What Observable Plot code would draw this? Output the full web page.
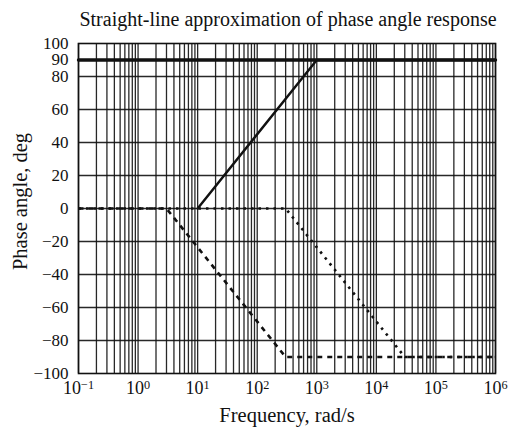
<!DOCTYPE html>
<html>
<head>
<meta charset="utf-8">
<script src="https://cdn.jsdelivr.net/npm/d3@7"></script>
<script src="https://cdn.jsdelivr.net/npm/@observablehq/plot@0.6"></script>
<style>
  html, body { margin: 0; padding: 0; background: #fff; }
  #wrap { position: relative; width: 518px; height: 430px; overflow: hidden; background: #fff; }
  #title { position: absolute; left: 38px; width: 500px; top: 7px; text-align: center; white-space: nowrap;
           font-family: "Liberation Serif", "DejaVu Serif", serif; font-size: 20px; color: #111; line-height: 24px; }
  #chart { position: absolute; left: 0; top: 32px; }
</style>
</head>
<body>
<div id="wrap">
  <div id="title">Straight-line approximation of phase angle response</div>
  <div id="chart"></div>
</div>
<script>
// ---- data ----
const xDecadeTicks = [0.1, 1, 10, 100, 1000, 10000, 100000, 1000000];
const yTicks = [-100, -80, -60, -40, -20, 0, 20, 40, 60, 80, 90, 100];
const yGrid = [-80, -60, -40, -20, 0, 20, 40, 60, 80];

// constant +90 term (solid, heavy)
const constFreq = [0.1, 1000000];
const constPhase = [90, 90];
// zero term (solid)
const zeroFreq = [10, 1000, 1000000];
const zeroPhase = [0, 90, 90];
// first pole (dashed)
const pole1Freq = [0.1, 3, 300, 1000000];
const pole1Phase = [0, 0, -90, -90];
// second pole (dotted)
const pole2Freq = [0.1, 300, 30000, 1000000];
const pole2Phase = [0, 0, -90, -90];

// log grid lines (1..9 in each decade)
const xGrid = [];
for (let e = -1; e < 6; e++) for (let m = 1; m <= 9; m++) xGrid.push(m * Math.pow(10, e));
xGrid.push(1000000);

const toRows = (f, p) => f.map((v, i) => ({freq: v, phase: p[i]}));

const ink = "#111";
const chart = Plot.plot({
  width: 518,
  height: 398,
  marginTop: 11,
  marginBottom: 57,
  marginLeft: 78,
  marginRight: 23,
  style: {fontFamily: "'Liberation Serif', 'DejaVu Serif', serif", fontSize: "17px", color: ink, background: "#fff"},
  x: {type: "log", domain: [0.1, 1000000]},
  y: {domain: [-100, 100]},
  marks: [
    Plot.gridX(xGrid, {stroke: ink, strokeOpacity: 0.9, strokeWidth: 1.3}),
    Plot.gridY(yGrid, {stroke: ink, strokeOpacity: 0.9, strokeWidth: 1.3}),
    Plot.frame({stroke: ink, strokeWidth: 1.6}),
    Plot.axisX({ticks: xDecadeTicks, tickFormat: d => String(Math.round(Math.log10(d))), tickSize: 0, tickPadding: 8,
      label: "Frequency, rad/s", labelAnchor: "center", labelArrow: "none", labelOffset: 48, fontSize: 18}),
    Plot.axisY({ticks: yTicks, tickSize: 0, tickPadding: 10, fontSize: 17,
      label: "Phase angle, deg", labelAnchor: "center", labelArrow: "none", labelOffset: 66}),
    Plot.line(toRows(pole2Freq, pole2Phase), {x: "freq", y: "phase", stroke: ink, strokeWidth: 2.6, strokeDasharray: "2.5,5", strokeLinecap: "butt"}),
    Plot.line(toRows(pole1Freq, pole1Phase), {x: "freq", y: "phase", stroke: ink, strokeWidth: 2.6, strokeDasharray: "5,5", strokeLinecap: "butt"}),
    Plot.line(toRows(zeroFreq, zeroPhase), {x: "freq", y: "phase", stroke: ink, strokeWidth: 2.4}),
    Plot.line(toRows(constFreq, constPhase), {x: "freq", y: "phase", stroke: ink, strokeWidth: 3.4})
  ]
});
document.getElementById("chart").appendChild(chart);

// axis titles slightly larger than tick labels
d3.select(chart).selectAll('g[aria-label="x-axis label"] text, g[aria-label="y-axis label"] text')
  .attr("font-size", "20.5px");
// nudge y-axis title upward a little, as in the reference
d3.select(chart).selectAll('g[aria-label="y-axis label"] text').each(function() {
  const tr = this.getAttribute("transform") || "";
  const m = tr.match(/translate\(([-\d.]+),\s*([-\d.]+)\)(.*)/);
  if (m) this.setAttribute("transform", `translate(${m[1]},${+m[2] - 7})${m[3]}`);
});

// render decade labels as 10 with superscript exponent
const ns = "http://www.w3.org/2000/svg";
d3.select(chart).selectAll('g[aria-label="x-axis tick label"] text').each(function() {
  const e = +this.textContent;
  this.textContent = "10";
  const t = document.createElementNS(ns, "tspan");
  t.setAttribute("dy", "-0.45em");
  t.setAttribute("font-size", "0.68em");
  t.textContent = String(e).replace("-", "\u2212");
  this.appendChild(t);
});
</script>
</body>
</html>
